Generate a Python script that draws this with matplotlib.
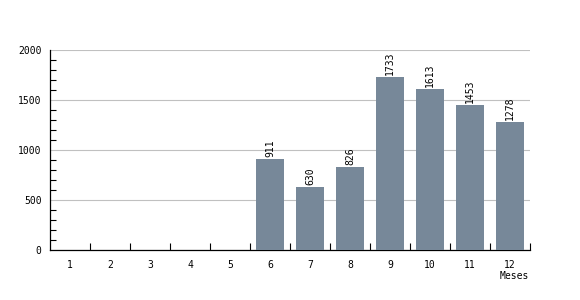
import matplotlib.pyplot as plt
from matplotlib.ticker import MultipleLocator

meses = [1, 2, 3, 4, 5, 6, 7, 8, 9, 10, 11, 12]
valores = [0, 0, 0, 0, 0, 911, 630, 826, 1733, 1613, 1453, 1278]

plt.rcParams['font.family'] = 'DejaVu Sans Mono'

fig = plt.figure(figsize=(5.8, 3.0), dpi=100)
ax = fig.add_axes([50 / 580, 50 / 300, 480 / 580, 200 / 300])

x = list(range(len(meses)))
ax.bar(x, valores, width=0.72, color='#778899', zorder=3)
for xi, v in zip(x, valores):
    if v > 0:
        ax.text(xi, v + 20, str(v), rotation=90, ha='center', va='bottom',
                fontsize=7, color='black', zorder=4)

ax.set_xlim(-0.5, len(meses) - 0.5)
ax.set_ylim(0, 2000)
ax.yaxis.set_major_locator(MultipleLocator(500))
ax.yaxis.set_minor_locator(MultipleLocator(100))
ax.grid(axis='y', which='major', color='#c0c0c0', linewidth=0.8, zorder=0)

ax.set_xticks(x)
ax.set_xticklabels([str(m) for m in meses], fontsize=7)
ax.set_xticks([i + 0.5 for i in x], minor=True)
ax.tick_params(axis='x', which='major', length=0, pad=7)
ax.tick_params(axis='x', which='minor', direction='in', length=5, width=0.8)
ax.tick_params(axis='y', which='major', direction='in', length=0, labelsize=7, pad=6)
ax.tick_params(axis='y', which='minor', direction='in', length=4, width=0.8)

for s in ['top', 'right']:
    ax.spines[s].set_visible(False)
ax.spines['left'].set_linewidth(0.9)
ax.spines['bottom'].set_linewidth(0.9)

fig.text(514 / 580, 1 - 276 / 300, 'Meses', ha='center', va='center', fontsize=7)

fig.savefig('out.png', dpi=100)
